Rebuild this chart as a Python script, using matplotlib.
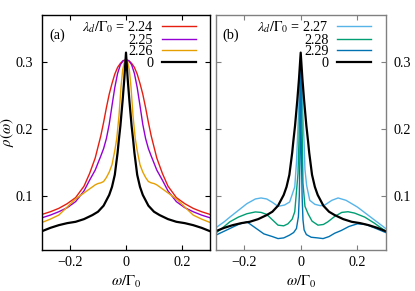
import matplotlib
matplotlib.use("Agg")
import matplotlib.pyplot as plt

plt.rcParams['font.family'] = ['Liberation Serif', 'DejaVu Serif']
plt.rcParams['mathtext.fontset'] = 'stix'
plt.rcParams['axes.unicode_minus'] = True

FS = 10.2

# ---------------- data ----------------
# panel (a)
x_224 = [-0.3, -0.27, -0.24, -0.21, -0.18, -0.15, -0.13, -0.11, -0.09, -0.08, -0.07, -0.06, -0.05, -0.04, -0.03, -0.02, -0.01, 0.0,
         0.01, 0.02, 0.03, 0.04, 0.05, 0.06, 0.07, 0.08, 0.09, 0.11, 0.13, 0.15, 0.18, 0.21, 0.24, 0.27, 0.3]
y_224 = [0.073, 0.077, 0.082, 0.089, 0.098, 0.115, 0.134, 0.157, 0.190, 0.210, 0.232, 0.252, 0.268, 0.282, 0.292, 0.298, 0.302, 0.303,
         0.302, 0.298, 0.292, 0.282, 0.268, 0.252, 0.232, 0.210, 0.190, 0.157, 0.134, 0.115, 0.098, 0.089, 0.082, 0.077, 0.073]

x_225 = [-0.3, -0.27, -0.24, -0.21, -0.18, -0.15, -0.13, -0.11, -0.09, -0.08, -0.07, -0.06, -0.05, -0.04, -0.03, -0.02, -0.01, 0.0,
         0.01, 0.02, 0.03, 0.04, 0.05, 0.06, 0.07, 0.08, 0.09, 0.11, 0.13, 0.15, 0.18, 0.21, 0.24, 0.27, 0.3]
y_225 = [0.068, 0.072, 0.077, 0.083, 0.092, 0.108, 0.124, 0.139, 0.160, 0.171, 0.186, 0.207, 0.235, 0.262, 0.283, 0.296, 0.302, 0.303,
         0.302, 0.296, 0.283, 0.262, 0.235, 0.207, 0.186, 0.171, 0.160, 0.139, 0.124, 0.108, 0.092, 0.083, 0.077, 0.072, 0.068]

x_226 = [-0.3, -0.27, -0.24, -0.21, -0.18, -0.15, -0.13, -0.11, -0.1, -0.09, -0.08, -0.07, -0.06, -0.05, -0.04, -0.033, -0.025, -0.018, -0.012, -0.006, 0.0,
         0.006, 0.012, 0.018, 0.025, 0.033, 0.04, 0.05, 0.06, 0.07, 0.08, 0.09, 0.1, 0.11, 0.13, 0.15, 0.18, 0.21, 0.24, 0.27, 0.3]
y_226 = [0.061, 0.066, 0.072, 0.084, 0.096, 0.105, 0.111, 0.117, 0.119, 0.120, 0.122, 0.128, 0.136, 0.147, 0.168, 0.186, 0.220, 0.262, 0.288, 0.300, 0.303,
         0.300, 0.288, 0.262, 0.220, 0.186, 0.168, 0.147, 0.136, 0.128, 0.122, 0.120, 0.119, 0.117, 0.111, 0.105, 0.096, 0.084, 0.072, 0.066, 0.061]

x_0 = [-0.3, -0.27, -0.24, -0.21, -0.18, -0.15, -0.12, -0.1, -0.08, -0.06, -0.05, -0.04, -0.03, -0.026, -0.02, -0.012, -0.006, 0.0,
       0.006, 0.012, 0.02, 0.026, 0.03, 0.04, 0.05, 0.06, 0.08, 0.1, 0.12, 0.15, 0.18, 0.21, 0.24, 0.27, 0.3]
y_0 = [0.048, 0.053, 0.057, 0.060, 0.062, 0.066, 0.072, 0.077, 0.086, 0.102, 0.114, 0.132, 0.165, 0.182, 0.205, 0.243, 0.275, 0.314,
       0.275, 0.243, 0.205, 0.182, 0.165, 0.132, 0.114, 0.102, 0.086, 0.077, 0.072, 0.066, 0.062, 0.060, 0.057, 0.053, 0.048]

# panel (b)
x_227 = [-0.3, -0.27, -0.25, -0.22, -0.19, -0.16, -0.14, -0.12, -0.1, -0.08, -0.057, -0.039, -0.021, -0.015, -0.012, -0.008, -0.004, 0.0,
         0.004, 0.008, 0.012, 0.015, 0.021, 0.032, 0.05, 0.07, 0.085, 0.11, 0.132, 0.16, 0.2, 0.25, 0.3]
y_227 = [0.053, 0.062, 0.069, 0.079, 0.089, 0.096, 0.0975, 0.096, 0.091, 0.085, 0.087, 0.0915, 0.114, 0.150, 0.180, 0.220, 0.270, 0.310,
         0.270, 0.220, 0.180, 0.140, 0.116, 0.094, 0.088, 0.086, 0.087, 0.094, 0.0975, 0.094, 0.084, 0.068, 0.052]

x_228 = [-0.3, -0.27, -0.25, -0.22, -0.19, -0.16, -0.14, -0.12, -0.1, -0.08, -0.06, -0.045, -0.03, -0.021, -0.0095, -0.006, -0.003, 0.0,
         0.003, 0.005, 0.008, 0.015, 0.026, 0.04, 0.061, 0.08, 0.096, 0.12, 0.145, 0.167, 0.19, 0.226, 0.26, 0.3]
y_228 = [0.045, 0.055, 0.062, 0.069, 0.074, 0.0767, 0.076, 0.073, 0.065, 0.057, 0.056, 0.059, 0.066, 0.077, 0.134, 0.184, 0.250, 0.310,
         0.250, 0.200, 0.120, 0.085, 0.074, 0.063, 0.057, 0.058, 0.062, 0.070, 0.076, 0.077, 0.075, 0.069, 0.060, 0.048]

x_229 = [-0.3, -0.25, -0.22, -0.19, -0.16, -0.13, -0.1, -0.08, -0.06, -0.04, -0.025, -0.015, -0.008, -0.005, -0.003, -0.0013, 0.0,
         0.0013, 0.003, 0.005, 0.008, 0.012, 0.02, 0.037, 0.06, 0.079, 0.1, 0.12, 0.143, 0.17, 0.2, 0.23, 0.26, 0.3]
y_229 = [0.042, 0.052, 0.058, 0.062, 0.053, 0.044, 0.040, 0.037, 0.038, 0.042, 0.046, 0.052, 0.070, 0.100, 0.150, 0.200, 0.310,
         0.200, 0.150, 0.100, 0.065, 0.050, 0.043, 0.039, 0.038, 0.037, 0.040, 0.045, 0.049, 0.055, 0.059, 0.058, 0.053, 0.046]

labels_a = [r'$\lambda_d/\Gamma_0$ = 2.24', '2.25', '2.26', '0']
labels_b = [r'$\lambda_d/\Gamma_0$ = 2.27', '2.28', '2.29', '0']
colors_a = ['#e51e10', '#9400d3', '#e69f00', 'black']
colors_b = ['#56b4e9', '#009e73', '#0072b2', 'black']

xticks = [-0.2, 0, 0.2]
xticklabels = ['\u22120.2', '0', '0.2']
yticks = [0.1, 0.2, 0.3]
yticklabels = ['0.1', '0.2', '0.3']

# ---------------- figure ----------------
fig = plt.figure(figsize=(4.15, 2.91), dpi=100)
axA = fig.add_axes([42/415, 1-250/291, 168/415, 235/291])
axB = fig.add_axes([215.7/415, 1-250/291, 170/415, 235/291])

def style(ax, spine_color, label_side):
    ax.set_xlim(-0.3, 0.3)
    ax.set_ylim(0.02, 0.37)
    ax.set_xticks(xticks)
    ax.set_xticklabels(xticklabels)
    ax.set_yticks(yticks)
    ax.set_yticklabels(yticklabels)
    for s in ax.spines.values():
        s.set_color(spine_color)
        s.set_linewidth(1.0)
    ax.tick_params(direction='in', top=True, right=True, length=3.5, width=0.8,
                   color=spine_color, labelsize=FS, pad=4.5)
    if label_side == 'right':
        ax.tick_params(axis='y', labelleft=False, labelright=True, pad=5.5)
    else:
        ax.tick_params(axis='y', pad=6.5)
    ax.set_xlabel(r'$\omega/\Gamma_0$', fontsize=FS + 0.5)
    ax.xaxis.set_label_coords(0.5, -0.1)

style(axA, 'black', 'left')
style(axB, '#808080', 'right')
axA.set_ylabel(r'$\rho(\omega)$', fontsize=FS + 0.5)
axA.yaxis.set_label_coords(-0.152, 0.5)

lw_c, lw_k = 1.0, 1.6
series_a = [(x_224, y_224), (x_225, y_225), (x_226, y_226), (x_0, y_0)]
series_b = [(x_227, y_227), (x_228, y_228), (x_229, y_229), (x_0, y_0)]

def draw(ax, series, colors, labels, tag):
    for (xs, ys), c, lab in zip(series, colors, labels):
        lw = lw_k if c == 'black' else lw_c
        ax.plot(xs, ys, color=c, lw=lw, label=lab, solid_joinstyle='round')
    leg = ax.legend(loc='upper right', bbox_to_anchor=(0.915, 0.982), frameon=False,
                    fontsize=FS, markerfirst=False, handlelength=2.4, handletextpad=0.6,
                    labelspacing=-0.1, borderpad=0.0, borderaxespad=0.0)
    for col in leg._legend_handle_box.get_children():
        col.align = 'right'
    ax.text(0.09, 0.915, tag, transform=ax.transAxes, fontsize=FS, ha='center', va='center')

draw(axA, series_a, colors_a, labels_a, '(a)')
draw(axB, series_b, colors_b, labels_b, '(b)')

fig.savefig('out.png', dpi=100)
